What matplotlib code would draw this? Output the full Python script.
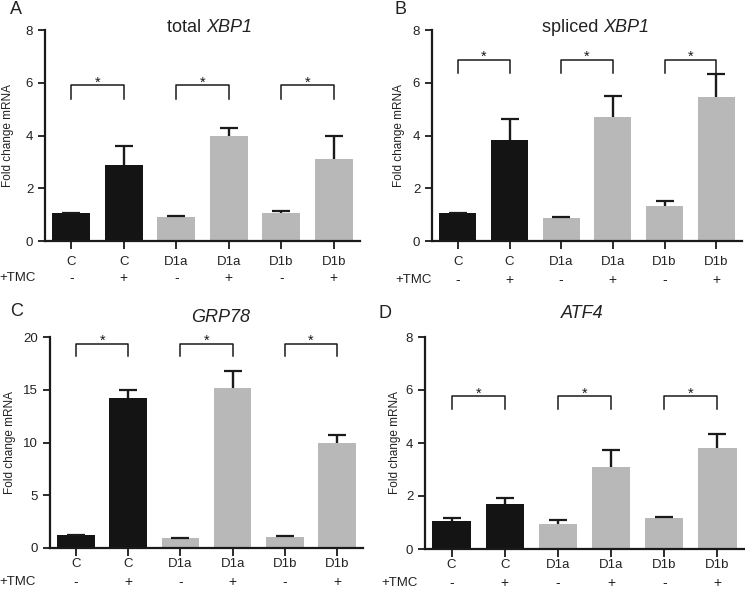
import numpy as np
import matplotlib
matplotlib.use("Agg")
import matplotlib.pyplot as plt
from matplotlib.transforms import offset_copy

plt.rcParams["font.family"] = ["Liberation Sans", "DejaVu Sans"]

# categories
groups = ["C", "C", "D1a", "D1a", "D1b", "D1b"]
tmc = ["-", "+", "-", "+", "-", "+"]

# fold change mRNA (mean, upper error)
xbp1_total = [1.05, 2.89, 0.92, 3.98, 1.05, 3.10]
xbp1_total_err = [0.0, 0.72, 0.02, 0.29, 0.10, 0.88]
xbp1_spliced = [1.05, 3.83, 0.86, 4.69, 1.33, 5.46]
xbp1_spliced_err = [0.0, 0.78, 0.06, 0.81, 0.17, 0.87]
grp78 = [1.20, 14.20, 0.95, 15.17, 1.00, 9.95]
grp78_err = [0.0, 0.75, 0.03, 1.58, 0.10, 0.79]
atf4 = [1.07, 1.71, 0.96, 3.11, 1.18, 3.80]
atf4_err = [0.09, 0.23, 0.14, 0.61, 0.03, 0.53]

# significance brackets (pairs of bars) and their (low, high) levels
pairs = [(0, 1), (2, 3), (4, 5)]
xbp1_total_br = (5.40, 5.91)
xbp1_spliced_br = (6.38, 6.86)
grp78_br = (18.17, 19.34)
atf4_br = (5.28, 5.76)

W, H = 745, 591
fig = plt.figure(figsize=(W / 100, H / 100), dpi=100)


def px_box(l, t, r, b):
    return [l / W, 1 - b / H, (r - l) / W, (b - t) / H]


bar_colors = ["#141414", "#141414", "#b8b8b8", "#b8b8b8", "#b8b8b8", "#b8b8b8"]
ink = "#1a1a1a"
txt = "#222222"

# title: (plain part, italic gene name)
panels = [
    dict(box=(45, 30, 360, 241), vals=xbp1_total, err=xbp1_total_err, br=xbp1_total_br,
         ymax=8, step=2, title=("total ", "XBP1"), title_xy=(206, 28),
         letter="A", letter_xy=(10, 10), ylab_x=8, pad=5.0, row2=37, tmc_x=36),
    dict(box=(432, 30, 742, 241), vals=xbp1_spliced, err=xbp1_spliced_err, br=xbp1_spliced_br,
         ymax=8, step=2, title=("spliced ", "XBP1"), title_xy=(603, 28),
         letter="B", letter_xy=(394, 10), ylab_x=399, pad=5.0, row2=39, tmc_x=432),
    dict(box=(50, 337, 363, 548), vals=grp78, err=grp78_err, br=grp78_br,
         ymax=20, step=5, title=("", "GRP78"), title_xy=(221, 318),
         letter="C", letter_xy=(10, 312), ylab_x=10, pad=1.0, row2=34, tmc_x=36),
    dict(box=(425, 337, 744, 549), vals=atf4, err=atf4_err, br=atf4_br,
         ymax=8, step=2, title=("", "ATF4"), title_xy=(582, 313),
         letter="D", letter_xy=(378, 313), ylab_x=395, pad=1.5, row2=34, tmc_x=418),
]

x = np.arange(len(groups))

for p in panels:
    ax = fig.add_axes(px_box(*p["box"]))
    ax.bar(x, p["vals"], width=0.72, color=bar_colors, zorder=2)
    eb = ax.errorbar(x, p["vals"], yerr=[np.zeros(len(x)), p["err"]], fmt="none",
                     ecolor=ink, elinewidth=1.7, capsize=6.5, capthick=1.6, zorder=3)
    eb[1][0].set_visible(False)  # no lower caps

    lo, hi = p["br"]
    for a, b in pairs:
        ax.plot([a, a, b, b], [lo, hi, hi, lo], color=ink, lw=1.1, clip_on=False, zorder=4)
        ax.annotate("*", xy=((a + b) / 2, hi), xytext=(0, -3), textcoords="offset points",
                    ha="center", va="bottom", fontsize=10.5, color=ink)

    ax.set_xlim(-0.5, 5.5)
    ax.set_ylim(0, p["ymax"])
    ax.set_yticks(np.arange(0, p["ymax"] + 0.1, p["step"]))
    ax.set_xticks(x, groups)
    for s in ["top", "right"]:
        ax.spines[s].set_visible(False)
    for s in ["left", "bottom"]:
        ax.spines[s].set_linewidth(1.6)
        ax.spines[s].set_color(ink)
    ax.tick_params(axis="both", direction="out", length=5, width=1.3, color=ink,
                   labelsize=9.5, labelcolor=txt)
    ax.tick_params(axis="x", pad=p["pad"], length=6)

    # second label row: +/- TMC
    tr = offset_copy(ax.get_xaxis_transform(), fig=fig, y=-p["row2"] * 0.72, units="points")
    for xi, sign in zip(x, tmc):
        ax.text(xi, 0, sign, transform=tr, ha="center", va="center", fontsize=10, color=txt)
    fig.text(p["tmc_x"] / W, 1 - (p["box"][3] + p["row2"]) / H, "+TMC",
             ha="right", va="center", fontsize=9.5, color=txt)

    plain, gene = p["title"]
    tx, ty = p["title_xy"][0] / W, 1 - p["title_xy"][1] / H
    if plain:
        fig.text(tx, ty, plain, ha="right", va="center", fontsize=13, color=txt)
        fig.text(tx, ty, gene, ha="left", va="center", fontsize=13, style="italic", color=txt)
    else:
        fig.text(tx, ty, gene, ha="center", va="center", fontsize=13, style="italic", color=txt)
    fig.text(p["letter_xy"][0] / W, 1 - p["letter_xy"][1] / H, p["letter"],
             ha="left", va="center", fontsize=13, color=txt)
    yc = (p["box"][1] + p["box"][3]) / 2
    fig.text(p["ylab_x"] / W, 1 - yc / H, "Fold change mRNA", rotation=90,
             ha="center", va="center", fontsize=8.5, color=txt)

fig.savefig("out.png", dpi=100, facecolor="white")
